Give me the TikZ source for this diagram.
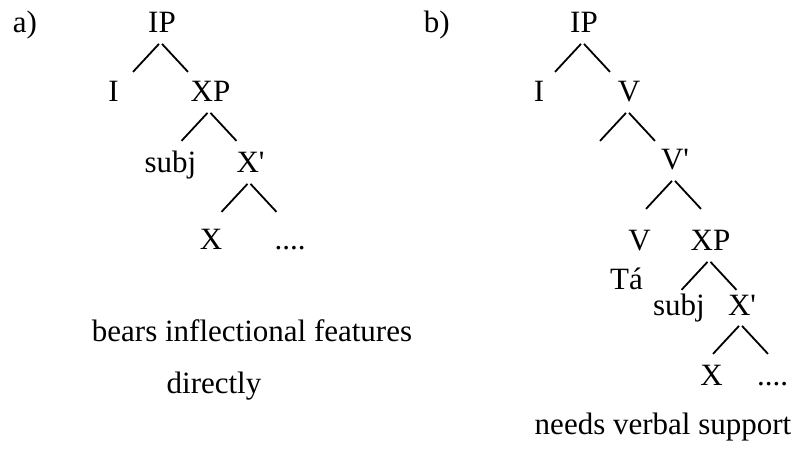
\documentclass[tikz,border=0pt]{standalone}
\usepackage{fontspec}
\setmainfont{Liberation Serif}[Ligatures=TeXOff]
\usepackage{tikz}

\begin{document}
\begin{tikzpicture}[x=1pt,y=1pt,line width=1.8pt,
  every node/.style={font=\fontsize{31pt}{37pt}\selectfont,inner sep=0pt,text height=21pt,text depth=7pt},
  lb/.style={edge from parent path={([xshift=-3pt,yshift=-3pt]\tikzparentnode.south) -- ([xshift=-29pt,yshift=-31pt]\tikzparentnode.south)}},
  rb/.style={edge from parent path={([yshift=-3pt]\tikzparentnode.south) -- ([xshift=26pt,yshift=-31pt]\tikzparentnode.south)}}]
\useasboundingbox (0,0) rectangle (798,-449);

% a) inflection on its own
\node (laba) [anchor=base west] at (12,-33) {a)};
\begin{scope}[level 1/.style={level distance=69pt,sibling distance=97pt},
  level 2/.style={level distance=71pt,sibling distance=80pt,xshift=13pt},
  level 3/.style={level distance=77pt,sibling distance=79pt}]
\node (ipa) at (162,-26) {IP}
  child[lb] {node (ia) {I}}
  child[rb] {node (xpa) {XP}
    child[lb] {node (subja) {subj}}
    child[rb] {node (xbara) {X'}
      child[lb] {node (xa) {X}}
      child[rb] {node (dotsa) {....}}
    }
  };
\end{scope}
\node (beara) [anchor=base] at (252,-341) {bears inflectional features};
\node (direa) [anchor=base] at (214,-393) {directly};

% b) inflection carried by the verb
\node (labb) [anchor=base west] at (423,-33) {b)};
\begin{scope}[level 1/.style={level distance=69pt,sibling distance=90pt,xshift=-9pt},
  level 2/.style={level distance=68pt,sibling distance=92pt},
  level 3/.style={level distance=81pt,sibling distance=71pt,xshift=3.5pt},
  level 4/.style={level distance=64pt,sibling distance=63pt,xshift=3.5pt},
  level 5/.style={level distance=70pt,sibling distance=61pt,xshift=-10.5pt}]
\node (ipb) at (584,-26) {IP}
  child[lb] {node (ib) {I}}
  child[rb] {node (vb) {V}
    child[lb] {coordinate (vgap)}
    child[rb] {node (vbarb) {V'}
      child[lb] {node (vheadb) [label={[xshift=-13pt,yshift=-9pt]below:Tá}] {V}}
      child[rb] {node (xpb) {XP}
        child[lb] {node (subjb) {subj}}
        child[rb] {node (xbarb) {X'}
          child[lb] {node (xb) {X}}
          child[rb] {node (dotsb) {....}}
        }
      }
    }
  };
\end{scope}
\node (needb) [anchor=base] at (663,-434) {needs verbal support};
\end{tikzpicture}
\end{document}
